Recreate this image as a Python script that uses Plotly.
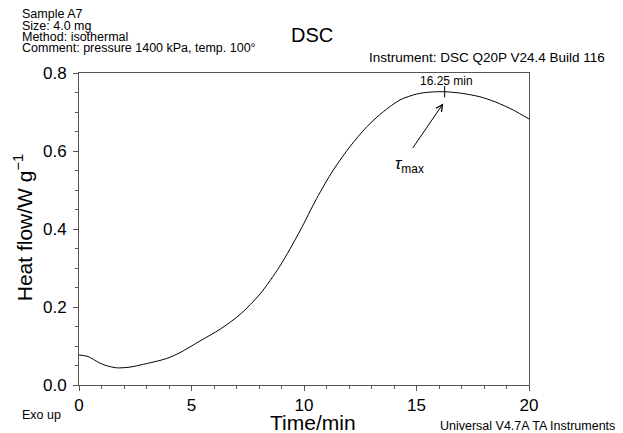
import plotly.graph_objects as go

# ---- data ----
time_min = [0, 0.4, 0.9, 1.2, 1.67, 2.27, 2.86, 3.9, 4.49, 5.38, 6.27, 7.16, 8.04,
            8.93, 9.82, 10.56, 11.3, 12.04, 12.79, 13.53, 14.27, 15.0, 15.6,
            16.25, 17.0, 17.82, 18.5, 19.3, 20.0]
heat_flow = [0.077, 0.073, 0.057, 0.050, 0.044, 0.046, 0.053, 0.068, 0.083, 0.113,
             0.143, 0.181, 0.233, 0.305, 0.395, 0.478, 0.551, 0.611, 0.662, 0.701,
             0.731, 0.746, 0.751, 0.752, 0.748, 0.739, 0.726, 0.705, 0.682]
peak_time = 16.25
x_ticks = [0, 5, 10, 15, 20]
y_ticks = [0.0, 0.2, 0.4, 0.6, 0.8]
header_lines = ["Sample A7", "Size: 4.0 mg", "Method: isothermal",
                "Comment: pressure 1400 kPa, temp. 100°"]

peak_val = heat_flow[time_min.index(peak_time)]

FONT = "Liberation Sans, Arial, Helvetica, sans-serif"
AX = "#555555"

fig = go.Figure()
fig.add_trace(go.Scatter(x=time_min, y=heat_flow, mode="lines",
                         line=dict(color="black", width=1, shape="spline", smoothing=0.8),
                         showlegend=False, hoverinfo="skip"))
fig.add_trace(go.Scatter(x=[peak_time], y=[peak_val], mode="markers",
                         marker=dict(symbol="line-ns", size=8,
                                     line=dict(color="black", width=1)),
                         showlegend=False, hoverinfo="skip"))


def note(text, x, y, size, xanchor="center", **kw):
    d = dict(text=text, x=x, y=y, xref="paper", yref="paper", xanchor=xanchor,
             yanchor="middle", showarrow=False, font=dict(size=size, color="black"))
    d.update(kw)
    return d


ann = []
ys = [1.189, 1.152, 1.116, 1.079]
for t, yy in zip(header_lines, ys):
    ann.append(note(t, -0.131, yy, 12.5, xanchor="left"))
ann += [
    note("DSC", 0.518, 1.122, 20),
    note("Instrument: DSC Q20P V24.4 Build 116", 0.64, 1.051, 13.5, xanchor="left"),
    note("Exo up", -0.131, -0.096, 12.5, xanchor="left"),
    note("Universal V4.7A TA Instruments", 0.798, -0.13, 12.5, xanchor="left"),
    note("Time/min", 0.52, -0.121, 21),
    note("Heat flow/W g<sup>−1</sup>", -0.124, 0.503, 21, textangle=-90),
    dict(text=f"{peak_time:.2f} min", x=peak_time, y=peak_val, xref="x", yref="y",
         xanchor="center", yanchor="middle", yshift=11, xshift=2, showarrow=False,
         font=dict(size=12, color="black")),
    dict(text="", x=16.19, y=0.722, ax=14.79, ay=0.604, xref="x", yref="y",
         axref="x", ayref="y", showarrow=True, arrowhead=5, arrowsize=1.3,
         arrowwidth=1, arrowcolor="black"),
    dict(text="<i>τ</i><sub>max</sub>", x=14.71, y=0.565, xref="x", yref="y",
         xanchor="center", yanchor="middle", showarrow=False,
         font=dict(size=17, color="black")),
]

fig.update_layout(
    width=623, height=433,
    margin=dict(l=79, r=94, t=73, b=48),
    paper_bgcolor="white", plot_bgcolor="white",
    font=dict(family=FONT, color="black"),
    annotations=ann,
    xaxis=dict(range=[0, 20], tickvals=x_ticks, ticks="outside", ticklen=5,
               tickcolor=AX, showline=True, linecolor=AX, linewidth=1, mirror=True,
               showgrid=False, zeroline=False, tickfont=dict(size=17),
               minor=dict(dtick=1, ticks="outside", ticklen=3, tickcolor=AX,
                          showgrid=False)),
    yaxis=dict(range=[0, 0.8], tickvals=y_ticks, tickformat=".1f", ticks="outside",
               ticklen=5, tickcolor=AX, showline=True, linecolor=AX, linewidth=1,
               mirror=True, showgrid=False, zeroline=False, tickfont=dict(size=17),
               ticklabelstandoff=3,
               minor=dict(dtick=0.05, ticks="outside", ticklen=3, tickcolor=AX,
                          showgrid=False)),
)

fig.write_html("out.html", config={"displayModeBar": False},
               post_script="document.body.style.margin='0';")
